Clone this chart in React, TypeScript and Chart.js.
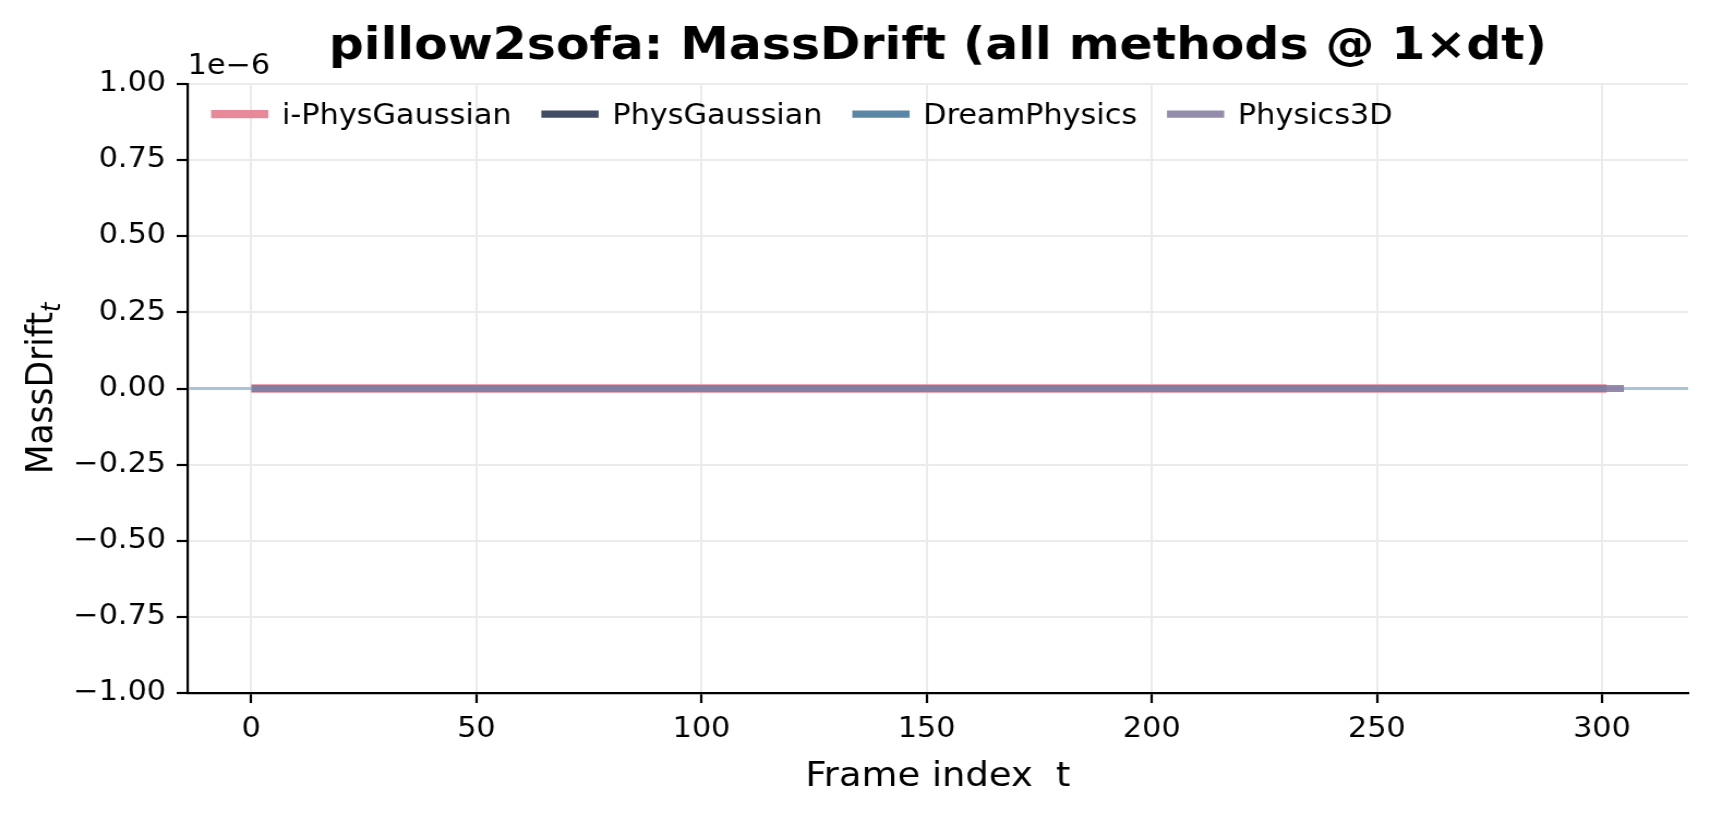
import React, { useEffect, useRef } from "react";
import { Chart, registerables } from "chart.js";

Chart.register(...registerables);

// ---------- text ----------
const CHART_TITLE = "pillow2sofa: MassDrift (all methods @ 1×dt)";
const X_AXIS_LABEL = "Frame index  t";
const Y_AXIS_LABEL = "MassDrift";
const Y_AXIS_SUBSCRIPT = "t";
const Y_OFFSET_LABEL = "1e−6";
const Y_SCALE_FACTOR = 1e-6;

// ---------- series ----------
const seriesNames = ["i-PhysGaussian", "PhysGaussian", "DreamPhysics", "Physics3D"];
const seriesColors = [
  "rgba(229,124,143,0.9)",
  "rgba(46,57,87,0.9)",
  "rgba(72,122,156,0.9)",
  "rgba(137,127,164,0.9)",
];
const seriesLineWidths = [8.3, 7.2, 7.2, 7.2];
const firstFrame = 1;

// MassDrift per frame (frames 1..300)
const iPhysGaussianDrift = [
  0,0,0,0,0,0,0,0,0,0, 0,0,0,0,0,0,0,0,0,0, 0,0,0,0,0,0,0,0,0,0, 0,0,0,0,0,0,0,0,0,0, 0,0,0,0,0,0,0,0,0,0,
  0,0,0,0,0,0,0,0,0,0, 0,0,0,0,0,0,0,0,0,0, 0,0,0,0,0,0,0,0,0,0, 0,0,0,0,0,0,0,0,0,0, 0,0,0,0,0,0,0,0,0,0,
  0,0,0,0,0,0,0,0,0,0, 0,0,0,0,0,0,0,0,0,0, 0,0,0,0,0,0,0,0,0,0, 0,0,0,0,0,0,0,0,0,0, 0,0,0,0,0,0,0,0,0,0,
  0,0,0,0,0,0,0,0,0,0, 0,0,0,0,0,0,0,0,0,0, 0,0,0,0,0,0,0,0,0,0, 0,0,0,0,0,0,0,0,0,0, 0,0,0,0,0,0,0,0,0,0,
  0,0,0,0,0,0,0,0,0,0, 0,0,0,0,0,0,0,0,0,0, 0,0,0,0,0,0,0,0,0,0, 0,0,0,0,0,0,0,0,0,0, 0,0,0,0,0,0,0,0,0,0,
  0,0,0,0,0,0,0,0,0,0, 0,0,0,0,0,0,0,0,0,0, 0,0,0,0,0,0,0,0,0,0, 0,0,0,0,0,0,0,0,0,0, 0,0,0,0,0,0,0,0,0,0,
];
// frames 1..300
const physGaussianDrift = [
  0,0,0,0,0,0,0,0,0,0, 0,0,0,0,0,0,0,0,0,0, 0,0,0,0,0,0,0,0,0,0, 0,0,0,0,0,0,0,0,0,0, 0,0,0,0,0,0,0,0,0,0,
  0,0,0,0,0,0,0,0,0,0, 0,0,0,0,0,0,0,0,0,0, 0,0,0,0,0,0,0,0,0,0, 0,0,0,0,0,0,0,0,0,0, 0,0,0,0,0,0,0,0,0,0,
  0,0,0,0,0,0,0,0,0,0, 0,0,0,0,0,0,0,0,0,0, 0,0,0,0,0,0,0,0,0,0, 0,0,0,0,0,0,0,0,0,0, 0,0,0,0,0,0,0,0,0,0,
  0,0,0,0,0,0,0,0,0,0, 0,0,0,0,0,0,0,0,0,0, 0,0,0,0,0,0,0,0,0,0, 0,0,0,0,0,0,0,0,0,0, 0,0,0,0,0,0,0,0,0,0,
  0,0,0,0,0,0,0,0,0,0, 0,0,0,0,0,0,0,0,0,0, 0,0,0,0,0,0,0,0,0,0, 0,0,0,0,0,0,0,0,0,0, 0,0,0,0,0,0,0,0,0,0,
  0,0,0,0,0,0,0,0,0,0, 0,0,0,0,0,0,0,0,0,0, 0,0,0,0,0,0,0,0,0,0, 0,0,0,0,0,0,0,0,0,0, 0,0,0,0,0,0,0,0,0,0,
];
// frames 1..300
const dreamPhysicsDrift = [
  0,0,0,0,0,0,0,0,0,0, 0,0,0,0,0,0,0,0,0,0, 0,0,0,0,0,0,0,0,0,0, 0,0,0,0,0,0,0,0,0,0, 0,0,0,0,0,0,0,0,0,0,
  0,0,0,0,0,0,0,0,0,0, 0,0,0,0,0,0,0,0,0,0, 0,0,0,0,0,0,0,0,0,0, 0,0,0,0,0,0,0,0,0,0, 0,0,0,0,0,0,0,0,0,0,
  0,0,0,0,0,0,0,0,0,0, 0,0,0,0,0,0,0,0,0,0, 0,0,0,0,0,0,0,0,0,0, 0,0,0,0,0,0,0,0,0,0, 0,0,0,0,0,0,0,0,0,0,
  0,0,0,0,0,0,0,0,0,0, 0,0,0,0,0,0,0,0,0,0, 0,0,0,0,0,0,0,0,0,0, 0,0,0,0,0,0,0,0,0,0, 0,0,0,0,0,0,0,0,0,0,
  0,0,0,0,0,0,0,0,0,0, 0,0,0,0,0,0,0,0,0,0, 0,0,0,0,0,0,0,0,0,0, 0,0,0,0,0,0,0,0,0,0, 0,0,0,0,0,0,0,0,0,0,
  0,0,0,0,0,0,0,0,0,0, 0,0,0,0,0,0,0,0,0,0, 0,0,0,0,0,0,0,0,0,0, 0,0,0,0,0,0,0,0,0,0, 0,0,0,0,0,0,0,0,0,0,
];
// frames 1..304
const physics3DDrift = [
  0,0,0,0,0,0,0,0,0,0, 0,0,0,0,0,0,0,0,0,0, 0,0,0,0,0,0,0,0,0,0, 0,0,0,0,0,0,0,0,0,0, 0,0,0,0,0,0,0,0,0,0,
  0,0,0,0,0,0,0,0,0,0, 0,0,0,0,0,0,0,0,0,0, 0,0,0,0,0,0,0,0,0,0, 0,0,0,0,0,0,0,0,0,0, 0,0,0,0,0,0,0,0,0,0,
  0,0,0,0,0,0,0,0,0,0, 0,0,0,0,0,0,0,0,0,0, 0,0,0,0,0,0,0,0,0,0, 0,0,0,0,0,0,0,0,0,0, 0,0,0,0,0,0,0,0,0,0,
  0,0,0,0,0,0,0,0,0,0, 0,0,0,0,0,0,0,0,0,0, 0,0,0,0,0,0,0,0,0,0, 0,0,0,0,0,0,0,0,0,0, 0,0,0,0,0,0,0,0,0,0,
  0,0,0,0,0,0,0,0,0,0, 0,0,0,0,0,0,0,0,0,0, 0,0,0,0,0,0,0,0,0,0, 0,0,0,0,0,0,0,0,0,0, 0,0,0,0,0,0,0,0,0,0,
  0,0,0,0,0,0,0,0,0,0, 0,0,0,0,0,0,0,0,0,0, 0,0,0,0,0,0,0,0,0,0, 0,0,0,0,0,0,0,0,0,0, 0,0,0,0,0,0,0,0,0,0,
  0,0,0,0,
];

// ---------- axes ----------
const xTickValues = [0, 50, 100, 150, 200, 250, 300];
const yTickValues = [-1, -0.75, -0.5, -0.25, 0, 0.25, 0.5, 0.75, 1];
const xLimits = [-14.15, 319.15];
const yLimits = [-1, 1];

const FONT = "'DejaVu Sans', 'Liberation Sans', sans-serif";

export default function App() {
  const canvasRef = useRef<HTMLCanvasElement | null>(null);

  useEffect(() => {
    const canvas = canvasRef.current;
    if (!canvas) return;

    const seriesData = [iPhysGaussianDrift, physGaussianDrift, dreamPhysicsDrift, physics3DDrift];
    const datasets = seriesNames.map((name, i) => ({
      label: name,
      data: seriesData[i].map((v, j) => ({ x: firstFrame + j, y: v })),
      borderColor: seriesColors[i],
      backgroundColor: seriesColors[i],
      borderWidth: seriesLineWidths[i],
      borderCapStyle: "square" as const,
      pointRadius: 0,
      pointHoverRadius: 0,
      tension: 0,
      fill: false,
      order: seriesNames.length - i,
    }));

    const decorPlugin = {
      id: "decor",
      beforeDatasetsDraw(chart: any) {
        const { ctx, chartArea, scales } = chart;
        const y0 = scales.y.getPixelForValue(0);
        ctx.save();
        ctx.strokeStyle = "#a9c4d9";
        ctx.lineWidth = 2.8;
        ctx.beginPath();
        ctx.moveTo(chartArea.left + 1, y0);
        ctx.lineTo(chartArea.right, y0);
        ctx.stroke();
        ctx.restore();
      },
      afterDraw(chart: any) {
        const { ctx, chartArea } = chart;
        ctx.save();
        ctx.fillStyle = "#000";
        ctx.textAlign = "left";
        ctx.textBaseline = "alphabetic";

        // offset text
        ctx.font = `27.8px ${FONT}`;
        ctx.fillText(Y_OFFSET_LABEL, chartArea.left, 73.5);

        // y axis label with italic subscript
        ctx.save();
        ctx.translate(48, (chartArea.top + chartArea.bottom) / 2);
        ctx.rotate(-Math.PI / 2);
        const mainFont = `34.5px ${FONT}`;
        const subFont = `italic 24px ${FONT}`;
        ctx.font = mainFont;
        const w1 = ctx.measureText(Y_AXIS_LABEL).width;
        ctx.font = subFont;
        const w2 = ctx.measureText(Y_AXIS_SUBSCRIPT).width;
        const start = -(w1 + w2) / 2;
        ctx.font = mainFont;
        ctx.fillText(Y_AXIS_LABEL, start, 0);
        ctx.font = subFont;
        ctx.fillText(Y_AXIS_SUBSCRIPT, start + w1, 6.5);
        ctx.restore();

        // legend (upper left, inside axes, no frame)
        const handleLen = 52.5;
        const handleGap = 12.5;
        const colGap = 27.3;
        const handleY = 114.2;
        const textBaseline = 124.3;
        let x = 193.5;
        ctx.font = `27.8px ${FONT}`;
        seriesNames.forEach((name, i) => {
          ctx.strokeStyle = seriesColors[i];
          ctx.lineWidth = seriesLineWidths[i];
          ctx.lineCap = "butt";
          ctx.beginPath();
          ctx.moveTo(x, handleY);
          ctx.lineTo(x + handleLen, handleY);
          ctx.stroke();
          ctx.fillStyle = "#000";
          const tx = x + handleLen + handleGap;
          ctx.fillText(name, tx, textBaseline);
          x = tx + ctx.measureText(name).width + colGap;
        });
        ctx.restore();
      },
    };

    const tickFont = { family: FONT, size: 27.8 };

    const chart = new Chart(canvas, {
      type: "line",
      data: { datasets: datasets as any },
      options: {
        animation: false,
        responsive: false,
        devicePixelRatio: 1,
        events: [],
        layout: { padding: { left: 0, right: 20, top: 0, bottom: 0 } },
        plugins: {
          legend: { display: false },
          tooltip: { enabled: false },
          title: {
            display: true,
            text: CHART_TITLE,
            fullSize: false,
            color: "#000",
            font: { family: FONT, size: 44.8, weight: "bold", lineHeight: 1.2 },
            padding: { top: 20.2, bottom: 10.04 },
          },
        },
        scales: {
          x: {
            type: "linear",
            min: xLimits[0],
            max: xLimits[1],
            afterBuildTicks: (scale: any) => {
              scale.ticks = xTickValues.map((v) => ({ value: v }));
            },
            afterFit: (scale: any) => {
              scale.height = 122;
            },
            ticks: {
              callback: (v: any) => String(v),
              font: tickFont,
              color: "#000",
              padding: 10,
              maxRotation: 0,
              autoSkip: false,
            },
            grid: {
              color: "#ebebeb",
              lineWidth: 2,
              tickColor: "#000",
              tickLength: 10,
              tickWidth: 2.2,
            },
            border: { display: true, color: "#000", width: 2.2 },
            title: {
              display: true,
              text: X_AXIS_LABEL,
              color: "#000",
              font: { family: FONT, size: 33.8 },
              padding: { top: 0, bottom: 17.5 },
            },
          },
          y: {
            type: "linear",
            min: yLimits[0] * Y_SCALE_FACTOR,
            max: yLimits[1] * Y_SCALE_FACTOR,
            afterBuildTicks: (scale: any) => {
              scale.ticks = yTickValues.map((v) => ({ value: v * Y_SCALE_FACTOR }));
            },
            afterFit: (scale: any) => {
              scale.width = 172;
            },
            ticks: {
              callback: (v: any) => (Number(v) / Y_SCALE_FACTOR).toFixed(2).replace("-", "−"),
              font: tickFont,
              color: "#000",
              padding: 9.7,
              autoSkip: false,
            },
            grid: {
              color: "#ebebeb",
              lineWidth: 2,
              tickColor: "#000",
              tickLength: 10,
              tickWidth: 2.2,
            },
            border: { display: true, color: "#000", width: 2.2 },
          },
        },
      } as any,
      plugins: [decorPlugin],
    });

    return () => chart.destroy();
  }, []);

  return (
    <div style={{ position: "absolute", left: 0, top: 0, width: 1710, height: 815, background: "#fff" }}>
      <canvas
        ref={canvasRef}
        width={1568}
        height={815}
        style={{ width: "1710px", height: "815px", display: "block" }}
      />
    </div>
  );
}
